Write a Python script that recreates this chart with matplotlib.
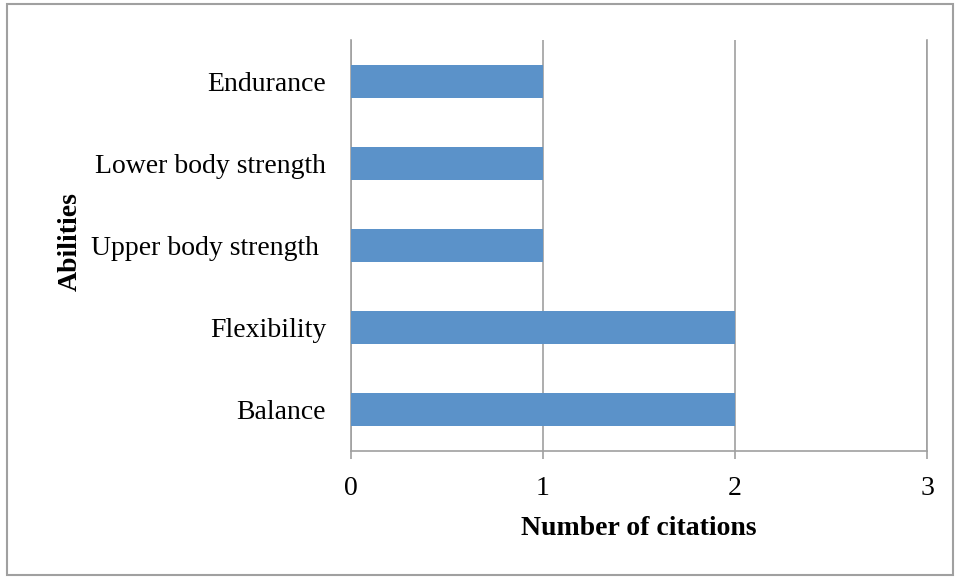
import matplotlib
matplotlib.use("Agg")
import matplotlib.pyplot as plt
from matplotlib.patches import Rectangle

categories = ["Balance", "Flexibility", "Upper body strength ", "Lower body strength", "Endurance"]
values = [2, 2, 1, 1, 1]
xticks = [0, 1, 2, 3]

plt.rcParams['font.family'] = ['Liberation Serif', 'DejaVu Serif']

W, H = 956, 577
fig = plt.figure(figsize=(W/100, H/100), dpi=100)
fig.patches.append(Rectangle((7/W, 2/H), 946/W, 571/H, transform=fig.transFigure,
                             fill=False, edgecolor='#a0a0a0', linewidth=1.5))
ax = fig.add_axes([351/W, 1-451/H, 576/W, 411/H])
ax.barh(range(len(categories)), values, height=0.4, color='#5b92c9', zorder=3)
ax.set_xlim(0, 3)
ax.set_ylim(-0.5, len(categories)-0.5)
ax.set_xticks(xticks)
ax.set_yticks(range(len(categories)))
ax.set_yticklabels(categories)
ax.grid(axis='x', color='#a0a0a0', linewidth=1.2, zorder=0)
ax.spines['top'].set_visible(False)
for s in ['left', 'bottom', 'right']:
    ax.spines[s].set_color('#a0a0a0')
    ax.spines[s].set_linewidth(1.2)
ax.tick_params(axis='y', length=0, pad=18, labelsize=20)
ax.tick_params(axis='x', length=6, color='#a0a0a0', width=1.2, pad=12, labelsize=20)
ax.set_xlabel("Number of citations", fontsize=20, fontweight='bold')
ax.xaxis.set_label_coords(0.5, -0.158)
ax.set_ylabel("Abilities", fontsize=20, fontweight='bold')
ax.yaxis.set_label_coords(-0.465, 0.51)
fig.savefig("out.png", dpi=100)
